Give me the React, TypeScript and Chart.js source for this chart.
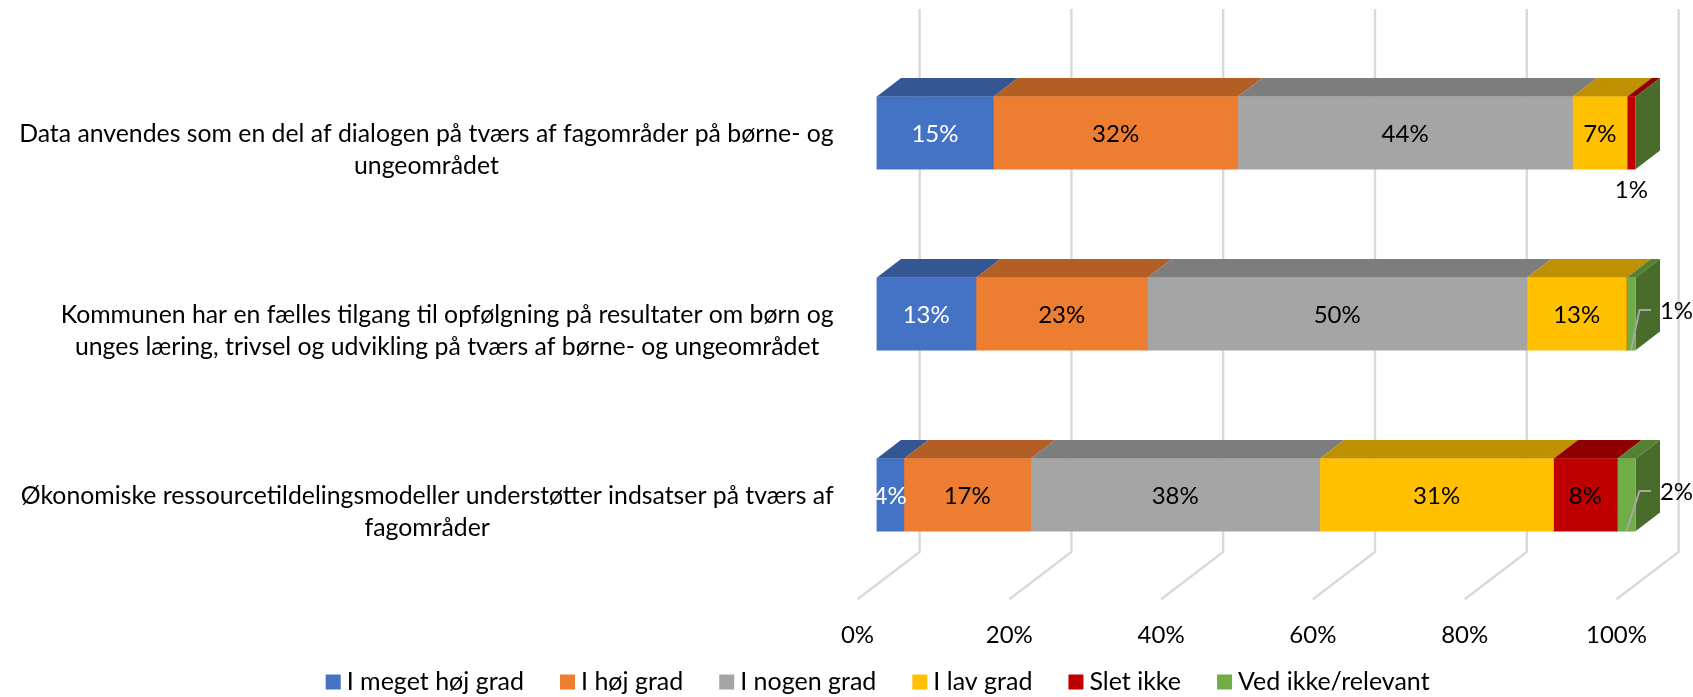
import React, { useEffect, useRef } from "react";
import { Chart, registerables } from "chart.js";

Chart.register(...registerables);

const categories = [
  ["Data anvendes som en del af dialogen på tværs af fagområder på børne- og", "ungeområdet"],
  ["Kommunen har en fælles tilgang til opfølgning på resultater om børn og", "unges læring, trivsel og udvikling på tværs af børne- og ungeområdet"],
  ["Økonomiske ressourcetildelingsmodeller understøtter indsatser på tværs af", "fagområder"],
];
const seriesNames = ["I meget høj grad", "I høj grad", "I nogen grad", "I lav grad", "Slet ikke", "Ved ikke/relevant"];
const meget = [15.4, 13.1, 3.6];
const hoej = [32.2, 22.6, 16.7];
const nogen = [44.1, 50.0, 38.1];
const lav = [7.2, 13.1, 30.8];
const slet = [1.1, 0, 8.4];
const vedIkke = [0, 1.2, 2.4];
const seriesValues = [meget, hoej, nogen, lav, slet, vedIkke];
const frontColors = ["#4472C4", "#ED7D31", "#A5A5A5", "#FFC000", "#C00000", "#70AD47"];
const topColors = ["#345693", "#B25E25", "#7D7D7D", "#BF9000", "#900000", "#548235"];
const SIDE_COLOR = "#4A6C2B";
const labelColors = ["#FFFFFF", "#000000", "#000000", "#000000", "#000000", "#000000"];

const FONT_FAMILY = "Lato, 'Open Sans', sans-serif";
const TEXT_FONT = `24.8px ${FONT_FAMILY}`;
const LEGEND_FONT = `25px ${FONT_FAMILY}`;
const NUMBER_SIZE = 24;
const NUMBER_FONT = `${NUMBER_SIZE}px ${FONT_FAMILY}`;
const DEPTH_X = 24.5;
const DEPTH_Y = 18.7;
const WALL_DX = 43.1;
const FLOOR_DX = -19;
const GRID_TOP = 9;
const GRID_BACK = 552;
const GRID_FRONT = 599.3;

const box3d = {
  id: "box3d",
  beforeDatasetsDraw(chart: any) {
    const { ctx, scales } = chart;
    const x = scales.x;
    ctx.save();
    // walls and floor
    ctx.strokeStyle = "#D9D9D9";
    ctx.lineWidth = 2.4;
    x.ticks.forEach((t: any) => {
      const px = x.getPixelForValue(t.value);
      ctx.beginPath();
      ctx.moveTo(px + WALL_DX, GRID_TOP);
      ctx.lineTo(px + WALL_DX, GRID_BACK);
      ctx.lineTo(px + FLOOR_DX, GRID_FRONT);
      ctx.stroke();
    });
    // top and side faces
    chart.data.datasets.forEach((ds: any, i: number) => {
      chart.getDatasetMeta(i).data.forEach((el: any) => {
        const top = el.y - el.height / 2;
        const bottom = el.y + el.height / 2;
        const l = Math.min(el.base, el.x);
        const r = Math.max(el.base, el.x);
        if (r - l > 0) {
          ctx.fillStyle = topColors[i];
          ctx.beginPath();
          ctx.moveTo(l, top);
          ctx.lineTo(l + DEPTH_X, top - DEPTH_Y);
          ctx.lineTo(r + DEPTH_X, top - DEPTH_Y);
          ctx.lineTo(r, top);
          ctx.closePath();
          ctx.fill();
        }
        if (i === chart.data.datasets.length - 1) {
          ctx.fillStyle = SIDE_COLOR;
          ctx.beginPath();
          ctx.moveTo(r, top);
          ctx.lineTo(r + DEPTH_X, top - DEPTH_Y);
          ctx.lineTo(r + DEPTH_X, bottom - DEPTH_Y);
          ctx.lineTo(r, bottom);
          ctx.closePath();
          ctx.fill();
        }
      });
    });
    ctx.restore();
  },
  afterDatasetsDraw(chart: any) {
    const { ctx, scales } = chart;
    ctx.save();
    ctx.font = NUMBER_FONT;
    ctx.textBaseline = "middle";
    ctx.textAlign = "center";
    const last = chart.data.datasets.length - 1;
    chart.data.datasets.forEach((ds: any, i: number) => {
      chart.getDatasetMeta(i).data.forEach((el: any, j: number) => {
        const v = ds.data[j];
        if (!v) return;
        const text = `${Math.round(v)}%`;
        const bottom = el.y + el.height / 2;
        const mid = (el.x + el.base) / 2;
        if (v >= 3) {
          ctx.fillStyle = labelColors[i];
          ctx.fillText(text, mid, el.y + 1);
        } else if (i === last) {
          ctx.strokeStyle = "#A6A6A6";
          ctx.lineWidth = 2;
          ctx.beginPath();
          ctx.moveTo(mid, bottom);
          ctx.lineTo(el.x + 4, el.y - 4);
          ctx.lineTo(el.x + 15.5, el.y - 4);
          ctx.stroke();
          ctx.fillStyle = "#000000";
          ctx.fillText(text, el.x + 41, el.y - 2.5);
        } else {
          ctx.fillStyle = "#000000";
          ctx.fillText(text, mid, bottom + 21);
        }
      });
    });
    // category labels: each block centred on itself, first line level with the bar
    ctx.font = TEXT_FONT;
    const RIGHT = 833.6;
    const LINE = 32;
    chart.data.labels.forEach((lines: string[], j: number) => {
      const y = scales.y.getPixelForValue(j) + 1;
      const w = Math.max(...lines.map((s) => ctx.measureText(s).width));
      ctx.fillStyle = "#000000";
      lines.forEach((s, k) => ctx.fillText(s, RIGHT - w / 2, y + k * LINE));
    });
    // legend
    ctx.font = LEGEND_FONT;
    let lx = 325.7;
    const ly = 682;
    chart.data.datasets.forEach((ds: any) => {
      ctx.fillStyle = ds.backgroundColor;
      ctx.fillRect(lx, ly - 7.5, 15, 15);
      ctx.fillStyle = "#000000";
      ctx.textAlign = "left";
      ctx.fillText(ds.label, lx + 21, ly);
      lx += 21 + ctx.measureText(ds.label).width + 36;
    });
    ctx.restore();
  },
};

export default function App() {
  const ref = useRef<HTMLCanvasElement>(null);
  useEffect(() => {
    const chart = new Chart(ref.current as HTMLCanvasElement, {
      type: "bar",
      data: {
        labels: categories as any,
        datasets: seriesNames.map((label, i) => ({
          label,
          data: seriesValues[i],
          backgroundColor: frontColors[i],
          borderWidth: 0,
          barThickness: 72.4,
        })),
      },
      options: {
        indexAxis: "y",
        responsive: false,
        animation: false,
        layout: { autoPadding: false, padding: { top: 42.5, right: 56, bottom: 0, left: 0 } },
        plugins: { legend: { display: false }, tooltip: { enabled: false }, title: { display: false } },
        scales: {
          x: {
            stacked: true,
            min: 0,
            max: 100,
            grid: { display: false },
            border: { display: false },
            ticks: {
              stepSize: 20,
              autoSkip: false,
              maxRotation: 0,
              labelOffset: FLOOR_DX,
              padding: 27,
              color: "#000000",
              font: { family: FONT_FAMILY, size: NUMBER_SIZE },
              callback: (v: any) => `${v}%`,
            },
            afterFit: (s: any) => {
              s.height = 111.5;
            },
          },
          y: {
            stacked: true,
            grid: { display: false },
            border: { display: false },
            ticks: { display: false },
            afterFit: (s: any) => {
              s.width = 876.5;
            },
          },
        },
      } as any,
      plugins: [box3d],
    });
    return () => chart.destroy();
  }, []);
  return (
    <div style={{ position: "absolute", left: 0, top: 0, width: 1693, height: 697, background: "#fff" }}>
      <canvas ref={ref} width={1693} height={697} style={{ display: "block" }} />
    </div>
  );
}
